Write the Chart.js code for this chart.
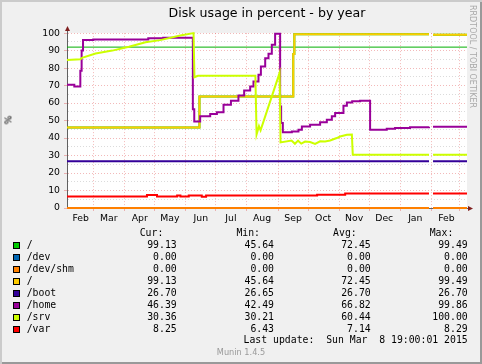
<!DOCTYPE html>
<html>
<head>
<meta charset="utf-8">
<title>Disk usage in percent - by year</title>
<script src="https://cdn.jsdelivr.net/npm/chart.js@4.4.1/dist/chart.umd.min.js"></script>
<style>
  html, body { margin: 0; padding: 0; background: #F0F0F0; }
  #frame {
    position: relative; width: 482px; height: 364px; overflow: hidden;
    background: #F0F0F0;
    box-shadow: inset 2px 2px 0 #CBCBCB, inset -2px -2px 0 #999999;
  }
  #chartBox { position: absolute; left: 0; top: 0; width: 482px; height: 230px; }
  .txt {
    position: absolute; font-family: "DejaVu Sans Mono", monospace; font-size: 9.8px;
    line-height: 12px; color: #000; white-space: pre;
  }
  .swatch { position: absolute; width: 5px; height: 5px; border: 1px solid #000; }
  #yTitle {
    position: absolute; left: 4px; top: 114px; font-family: "DejaVu Sans", sans-serif;
    font-size: 9.3px; line-height: 12px; transform: rotate(-90deg);
  }
  #watermark {
    position: absolute; left: 467px; top: 5px; writing-mode: vertical-rl;
    font-family: "DejaVu Sans", sans-serif; font-size: 8px; line-height: 10px; color: #A8A8A8;
  }
  #munin {
    position: absolute; left: 0; width: 482px; top: 346px; text-align: center;
    font-family: "DejaVu Sans", sans-serif; font-size: 8.2px; line-height: 12px; color: #999;
  }
</style>
</head>
<body>
<div id="frame">
  <div id="chartBox"><canvas id="diskChart" width="482" height="230"></canvas></div>
  <div id="yTitle">%</div>
  <div id="watermark">RRDTOOL / TOBI OETIKER</div>
  <div id="legend"></div>
  <div id="munin">Munin 1.4.5</div>
</div>
<script>
/* ================= AXIS DATA (days since 1 Jan 2014) ================= */
const xMin = 32.4;
const xMax = 431.6;
const monthNames = ["Feb", "Mar", "Apr", "May", "Jun", "Jul", "Aug", "Sep", "Oct", "Nov", "Dec", "Jan", "Feb"];
const monthLabelDays = [46, 74, 105, 135, 166, 196, 227, 258, 288, 319, 349, 380, 411];
const monthStartDays = [59, 90, 120, 151, 181, 212, 243, 273, 304, 334, 365, 396, 424];

/* ================= SERIES ================= */
const rootDays = [32.4, 164.6, 258.2, 259.3, 393.7, 395.5, 397.7, 431.6];
const rootVals = [46.1, 63.8, 88, 99.3, 99.3, null, 99.1, 99.1];

const zeroDays = [32.4, 393.7, 395.5, 397.7, 431.6];
const devVals = [0, 0, null, 0, 0];
const devShmVals = [0, 0, null, 0, 0];

const bootDays = [32.4, 393.7, 395.5, 397.7, 431.6];
const bootVals = [26.7, 26.7, null, 26.7, 26.7];

const homeDays = [32.4, 39.7, 45.7, 47.0, 48.4, 58.6, 113.5, 128.4, 158.0, 159.4, 165.3, 175.3,
  182, 188.6, 196, 203.5, 209.2, 215.2, 218.5, 223.5, 225.9, 230.2, 233.5, 236.8, 240.1, 245.1,
  246.1, 247.8, 256.8, 263.4, 266.8, 275, 285, 291.7, 296.7, 300, 308.3, 311.7, 317, 324.9,
  334.9, 351.5, 359.8, 374.7, 393.7, 395.5, 397.7, 431.6];
const homeVals = [70.5, 69.5, 78.5, 90, 96, 96.4, 97.0, 97.4, 56.4, 49.5, 52.4, 53.7,
  54.8, 59, 61.3, 64.3, 67.2, 69.5, 72.3, 76.2, 80.9, 85.7, 88.2, 93.3, 99.6, 58,
  48.6, 43.3, 43.8, 44.7, 46.6, 47.6, 49.1, 50.5, 52.4, 54.3, 58.5, 60.3, 61, 61.3,
  44.8, 45.3, 45.7, 46.2, 46.4, null, 46.4, 46.4];

const srvDays = [32.4, 45.7, 47.4, 60.9, 77.6, 94.2, 110.8, 125.4, 145.4, 158.7, 159.6, 163,
  220.4, 221.6, 224, 225.6, 244.6, 245.5, 256.5, 259.9, 263, 266.2, 270, 275, 280, 285, 290,
  295, 301.6, 305, 311.7, 316.7, 317.6, 393.7, 395.5, 397.7, 431.6];
const srvVals = [84.6, 85.0, 85.9, 88.3, 90, 92.2, 94.8, 96, 98.6, 100, 74.8, 75.6,
  75.6, 42.1, 46.8, 44.4, 77.3, 37.5, 38.6, 36.7, 38.5, 36.8, 38, 37.7, 36.6, 38.1, 38,
  38.6, 40, 40.9, 41.9, 42, 30.5, 30.4, null, 30.4, 30.4];

const varDays = [32.4, 112.2, 122.2, 142.3, 145.6, 153.9, 166.9, 171.2, 282, 310, 393.7, 395.5, 397.7, 431.6];
const varVals = [6.6, 7.4, 6.6, 7.2, 6.6, 7.2, 6.4, 7.2, 7.6, 8.25, 8.25, null, 8.25, 8.25];

const warnDays = [32.4, 431.6];
const warnVals = [92, 92];

/* ================= LEGEND TABLE ================= */
const legendNames = ["/", "/dev", "/dev/shm", "/", "/boot", "/home", "/srv", "/var"];
const legendColors = ["#00CC00", "#0066B3", "#FF8000", "#FFCC00", "#330099", "#990099", "#CCFF00", "#FF0000"];
const curVals = [99.13, 0.00, 0.00, 99.13, 26.70, 46.39, 30.36, 8.25];
const minVals = [45.64, 0.00, 0.00, 45.64, 26.65, 42.49, 30.21, 6.43];
const avgVals = [72.45, 0.00, 0.00, 72.45, 26.70, 66.82, 60.44, 7.14];
const maxVals = [99.49, 0.00, 0.00, 99.49, 26.70, 99.86, 100.00, 8.29];
const lastUpdate = "Last update:  Sun Mar  8 19:00:01 2015";

/* ================= STYLE ================= */
const MAJOR_GRID = "rgba(225,80,80,0.40)";
const MINOR_GRID = "rgba(143,143,143,0.32)";
const AXIS_COLOR = "#606060";
const ARROW_COLOR = "#7F1F1F";
const LABEL_FONT = { family: "DejaVu Sans", size: 9.3 };

/* ================= LEGEND RENDER ================= */
const legendEl = document.getElementById("legend");

function addText(text, top, left, rightEdge) {
  const el = document.createElement("div");
  el.className = "txt";
  el.textContent = text;
  el.style.top = top + "px";
  if (rightEdge != null) el.style.right = (482 - rightEdge) + "px";
  else el.style.left = left + "px";
  legendEl.appendChild(el);
}

addText("Cur:", 227.3, null, 163.3);
addText("Min:", 227.3, null, 260);
addText("Avg:", 227.3, null, 356.7);
addText("Max:", 227.3, null, 453.3);

legendNames.forEach((name, i) => {
  const top = 238.7 + 12 * i;
  const sw = document.createElement("div");
  sw.className = "swatch";
  sw.style.left = "13px";
  sw.style.top = (242 + 12 * i) + "px";
  sw.style.background = legendColors[i];
  legendEl.appendChild(sw);
  addText(name, top, 26.7, null);
  addText(curVals[i].toFixed(2), top, null, 176.7);
  addText(minVals[i].toFixed(2), top, null, 274);
  addText(avgVals[i].toFixed(2), top, null, 370.7);
  addText(maxVals[i].toFixed(2), top, null, 467.7);
});
addText(lastUpdate, 334, null, 467.7);

/* ================= CHART ================= */
const toPoints = (days, vals) => days.map((d, i) => ({ x: d, y: vals[i] }));

function series(label, color, days, vals, order, stepped, width = 2) {
  return {
    label,
    data: toPoints(days, vals),
    borderColor: color,
    backgroundColor: color,
    borderWidth: width,
    pointRadius: 0,
    stepped,
    order,
    clip: false,
    spanGaps: false,
  };
}

const chartDecor = {
  id: "chartDecor",
  beforeDraw(chart) {
    const { ctx, chartArea: a } = chart;
    ctx.save();
    ctx.fillStyle = "#FFFFFF";
    ctx.fillRect(a.left, a.top, a.right - a.left, a.bottom - a.top);
    ctx.restore();
  },
  afterDraw(chart) {
    const { ctx, chartArea: a } = chart;
    ctx.save();
    ctx.strokeStyle = AXIS_COLOR;
    ctx.lineWidth = 1;
    ctx.beginPath();
    ctx.moveTo(a.left + 0.5, a.top);
    ctx.lineTo(a.left + 0.5, a.top - 3);
    ctx.moveTo(a.right, a.bottom + 0.5);
    ctx.lineTo(a.right + 2, a.bottom + 0.5);
    ctx.stroke();
    ctx.fillStyle = ARROW_COLOR;
    ctx.beginPath();
    ctx.moveTo(a.left - 2, a.top - 2);
    ctx.lineTo(a.left + 3, a.top - 2);
    ctx.lineTo(a.left + 0.5, a.top - 7);
    ctx.closePath();
    ctx.fill();
    ctx.beginPath();
    ctx.moveTo(a.right + 1, a.bottom - 2);
    ctx.lineTo(a.right + 1, a.bottom + 3);
    ctx.lineTo(a.right + 6, a.bottom + 0.5);
    ctx.closePath();
    ctx.fill();
    ctx.restore();
  },
};

new Chart(document.getElementById("diskChart"), {
  type: "line",
  data: {
    datasets: [
      series("/var", "#FF0000", varDays, varVals, 1, "before"),
      series("/srv", "#CCFF00", srvDays, srvVals, 2, false),
      series("/home", "#990099", homeDays, homeVals, 3, "before"),
      series("/boot", "#330099", bootDays, bootVals, 4, "before"),
      series("/", "#FFCC00", rootDays, rootVals, 5, "before"),
      series("/dev/shm", "#FF8000", zeroDays, devShmVals, 6, "before"),
      series("/dev", "#0066B3", zeroDays, devVals, 7, "before"),
      series("/", "#00CC00", rootDays, rootVals, 8, "before"),
      series("warning", "#00B000", warnDays, warnVals, 9, false, 1),
    ],
  },
  options: {
    responsive: false,
    animation: false,
    events: [],
    layout: { padding: { top: 0, right: 15, bottom: 0, left: 0 } },
    plugins: {
      legend: { display: false },
      tooltip: { enabled: false },
      title: {
        display: true,
        text: "Disk usage in percent - by year",
        fullSize: false,
        color: "#000",
        font: { family: "DejaVu Sans", size: 12.6, weight: "normal" },
        padding: { top: 6, bottom: 12 },
      },
    },
    scales: {
      x: {
        type: "linear",
        min: xMin,
        max: xMax,
        afterBuildTicks: (scale) => {
          const vals = monthStartDays.concat(monthLabelDays).sort((a, b) => a - b);
          scale.ticks = vals.map((v) => ({ value: v }));
        },
        afterFit: (scale) => { scale.height = 22; },
        ticks: {
          autoSkip: false,
          maxRotation: 0,
          minRotation: 0,
          padding: 2,
          color: "#000",
          font: LABEL_FONT,
          callback: (v) => {
            const i = monthLabelDays.indexOf(v);
            return i >= 0 ? monthNames[i] : "";
          },
        },
        grid: {
          color: (c) => (c.tick && monthStartDays.includes(c.tick.value) ? MAJOR_GRID : "rgba(0,0,0,0)"),
          tickColor: (c) => (c.tick && monthStartDays.includes(c.tick.value) ? MAJOR_GRID : "rgba(0,0,0,0)"),
          tickLength: 3,
          lineWidth: 1,
        },
        border: { display: true, color: AXIS_COLOR, dash: [1, 2] },
      },
      y: {
        min: 0,
        max: 100,
        afterFit: (scale) => { scale.width = 67; },
        ticks: {
          stepSize: 5,
          autoSkip: false,
          padding: 4,
          color: "#000",
          font: LABEL_FONT,
          callback: (v) => (v % 10 === 0 ? String(v) : ""),
        },
        grid: {
          color: (c) => (c.tick && c.tick.value % 10 === 0 ? MAJOR_GRID : MINOR_GRID),
          tickColor: (c) => (c.tick && c.tick.value % 10 === 0 ? MAJOR_GRID : "rgba(0,0,0,0)"),
          tickLength: 3,
          lineWidth: 1,
        },
        border: { display: true, color: AXIS_COLOR, dash: [1, 2] },
      },
    },
  },
  plugins: [chartDecor],
});
</script>
</body>
</html>
